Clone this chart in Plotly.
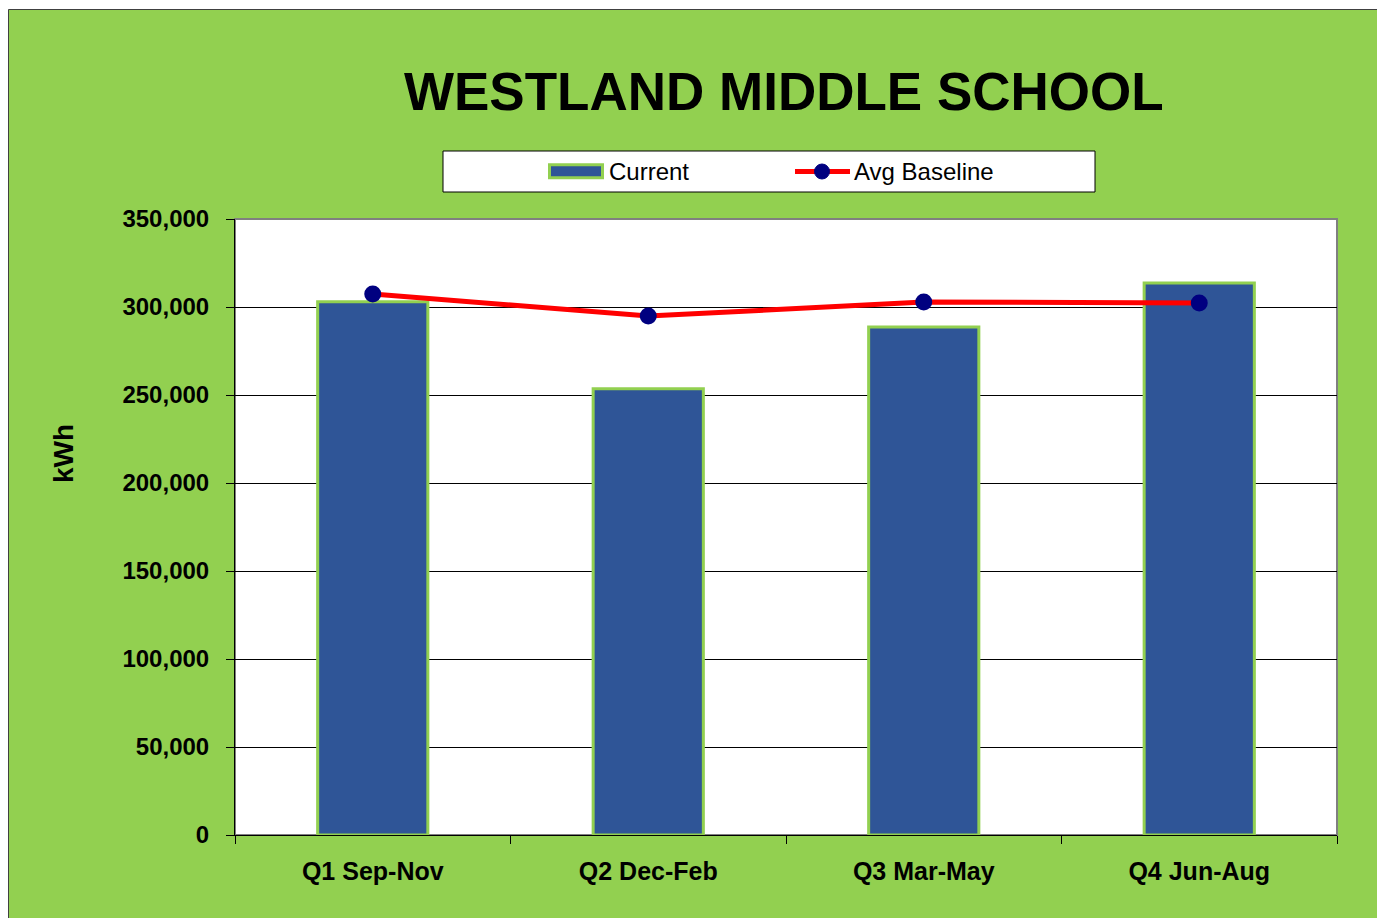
import plotly.graph_objects as go

# ---- data ----
quarters = ["Q1 Sep-Nov", "Q2 Dec-Feb", "Q3 Mar-May", "Q4 Jun-Aug"]
current_kwh = [303000, 253500, 288600, 313600]
avg_baseline_kwh = [307400, 294900, 302800, 302300]
y_ticks = [0, 50000, 100000, 150000, 200000, 250000, 300000, 350000]
title_text = "WESTLAND MIDDLE SCHOOL"
legend_labels = ["Current", "Avg Baseline"]
axis_title = "kWh"

# ---- layout geometry (page pixels; the figure sits 8px in from the page corner) ----
OFF = 8
PAGE_W, PAGE_H = 1385, 918
W, H = PAGE_W - OFF, PAGE_H - OFF
PX0, PX1, PY0, PY1 = 235, 1337, 219, 835  # plot area on the page
L, R, T, B = PX0 - OFF, PAGE_W - PX1, PY0 - OFF, PAGE_H - PY1
PW, PH = PX1 - PX0, PY1 - PY0


def px(x):
    return (x - PX0) / PW


def py(y):
    return (PY1 - y) / PH


GREEN = "#92D050"
BLUE = "#2F5597"
RED = "#FF0000"
NAVY = "#000080"
NARROW = "Liberation Sans Narrow, Arial Narrow, Liberation Sans, Arial, sans-serif"
SANS = "Liberation Sans, Arial, sans-serif"

fig = go.Figure()
fig.add_trace(go.Bar(
    x=quarters, y=current_kwh, name=legend_labels[0], width=0.4,
    marker=dict(color=BLUE, line=dict(color=GREEN, width=3)),
    showlegend=False,
))
fig.add_trace(go.Scatter(
    x=quarters, y=avg_baseline_kwh, name=legend_labels[1], mode="lines+markers",
    line=dict(color=RED, width=5),
    marker=dict(color=NAVY, size=17),
    showlegend=False,
))

shapes = [
    # green chart area
    dict(type="rect", xref="paper", yref="paper", x0=px(8.5), x1=px(1381.5), y0=py(940), y1=py(9.5),
         fillcolor=GREEN, line=dict(color="#404040", width=1), layer="below"),
    # plot area
    dict(type="rect", xref="paper", yref="paper", x0=0, x1=1, y0=0, y1=1,
         fillcolor="white", line=dict(color="#808080", width=2), layer="below"),
    # legend box
    dict(type="rect", xref="paper", yref="paper", x0=px(443), x1=px(1095), y0=py(192), y1=py(151),
         fillcolor="white", line=dict(color="black", width=1), layer="above"),
    # legend symbol: Current
    dict(type="rect", xref="paper", yref="paper", x0=px(549.5), x1=px(602.5), y0=py(177.8), y1=py(164.8),
         fillcolor=BLUE, line=dict(color=GREEN, width=3), layer="above"),
    # legend symbol: Avg Baseline line
    dict(type="line", xref="paper", yref="paper", x0=px(795), x1=px(850), y0=py(171.5), y1=py(171.5),
         line=dict(color=RED, width=5), layer="above"),
    dict(type="circle", xref="paper", yref="paper", x0=px(814.5), x1=px(829.5), y0=py(179), y1=py(164),
         fillcolor=NAVY, line=dict(color=NAVY, width=1), layer="above"),
]

annotations = [
    dict(text=legend_labels[0], xref="paper", yref="paper", x=px(607), y=py(171.5),
         xanchor="left", yanchor="middle", showarrow=False,
         font=dict(family=SANS, size=24, color="black")),
    dict(text=legend_labels[1], xref="paper", yref="paper", x=px(852), y=py(171.5),
         xanchor="left", yanchor="middle", showarrow=False,
         font=dict(family=SANS, size=24, color="black")),
    dict(text="<b>" + axis_title + "</b>", xref="paper", yref="paper", x=px(63), y=py(454),
         xanchor="center", yanchor="middle", textangle=-90, showarrow=False,
         font=dict(family=SANS, size=28, color="black")),
    dict(text="<b>" + title_text + "</b>", xref="paper", yref="paper", x=px(784), y=py(92),
         xanchor="center", yanchor="middle", showarrow=False,
         font=dict(family=SANS, size=53, color="black")),
]

fig.update_layout(
    width=W, height=H,
    margin=dict(l=L, r=R, t=T, b=B, pad=0),
    paper_bgcolor="white",
    plot_bgcolor="rgba(0,0,0,0)",
    showlegend=False,
    shapes=shapes,
    annotations=annotations,
)

fig.update_yaxes(
    range=[0, 350000], tickvals=y_ticks, tickformat=",", showgrid=True,
    gridcolor="black", gridwidth=1, zeroline=False,
    showline=True, linecolor="black", linewidth=1,
    ticks="outside", ticklen=8, tickcolor="black", tickwidth=1,
    ticklabelstandoff=12,
    tickfont=dict(family=NARROW, size=24, color="black", weight="bold"),
)
fig.update_xaxes(
    showgrid=False, showline=True, linecolor="black", linewidth=1,
    ticks="outside", ticklen=8, tickcolor="black", tickwidth=1,
    tickson="boundaries", ticklabelstandoff=14,
    tickfont=dict(family=NARROW, size=25, color="black", weight="bold"),
)

fig.write_html("out.html")
